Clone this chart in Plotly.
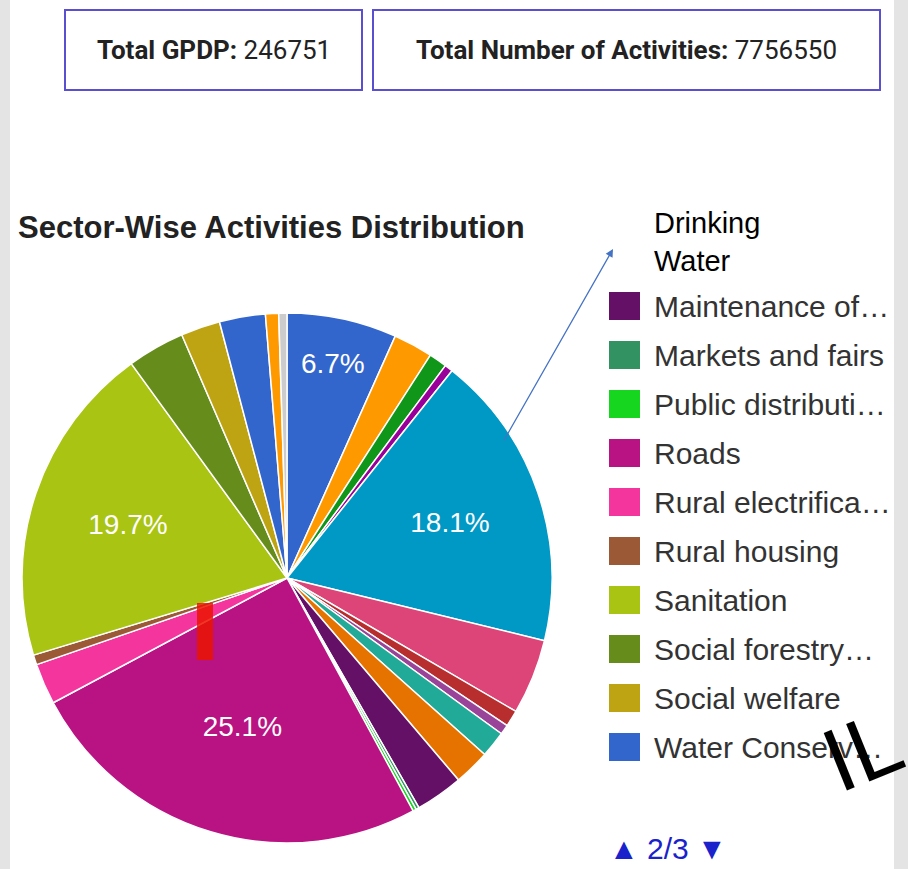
import plotly.graph_objects as go

W, H = 908, 869

# slices in data order (clockwise from 12 o'clock), share of activities in %
sectors = ["Agriculture", "Animal husbandry", "Cultural activities", "Drainage",
           "Drinking Water", "Education", "Family welfare", "Fisheries", "Health",
           "Libraries", "Maintenance of community assets", "Markets and fairs",
           "Public distribution system", "Roads", "Rural electrification",
           "Rural housing", "Sanitation", "Social forestry and farm forestry",
           "Social welfare", "Water Conservation", "Women and child development", "Other"]
share = [6.7, 2.4, 1.1, 0.5, 18.1, 4.6, 1.0, 0.6, 1.6, 2.2, 2.9, 0.2, 0.2,
         25.1, 2.5, 0.6, 19.7, 3.5, 2.4, 2.8, 0.8, 0.5]
colors = ["#3366cc", "#ff9900", "#109618", "#990099", "#0099c6", "#dd4477",
          "#b82e2e", "#994499", "#22aa99", "#e67300", "#651067", "#329262",
          "#16d620", "#b91383", "#f4359e", "#9c5935", "#a9c413", "#668d1c",
          "#bea413", "#3366cc", "#ff9900", "#cccccc"]
labelled = ["Agriculture", "Drinking Water", "Roads", "Sanitation"]

# legend page 2 of 3
legend_sectors = sectors[10:20]
legend_text = ["Maintenance of…", "Markets and fairs", "Public distributi…", "Roads",
               "Rural electrifica…", "Rural housing", "Sanitation", "Social forestry…",
               "Social welfare", "Water Conserv…"]

total_gpdp = 246751
total_activities = 7756550


def px(x):
    return x / W


def py(y):
    return 1 - y / H


fig = go.Figure(go.Pie(
    labels=sectors, values=share, sort=False, direction="clockwise", rotation=0,
    marker=dict(colors=colors, line=dict(color="white", width=1.5)),
    texttemplate=["%{percent:.1%}" if s in labelled else "" for s in sectors],
    textposition="inside", insidetextorientation="horizontal",
    textfont=dict(family="Liberation Sans", size=28, color="white"),
    domain=dict(x=[px(16), px(558)], y=[py(843), py(313)]),
    showlegend=False, hoverinfo="label+percent",
))

shapes = []
annotations = []


def note(x, y, text, size, color="#222", family="Liberation Sans", **kw):
    d = dict(xref="paper", yref="paper", x=px(x), y=py(y), text=text, showarrow=False,
             yanchor="middle", font=dict(family=family, size=size, color=color))
    d.update(kw)
    annotations.append(d)


# grey page edges
shapes.append(dict(type="rect", xref="paper", yref="paper", x0=0, x1=px(10), y0=0, y1=1,
                   fillcolor="#e4e4e4", line=dict(width=0), layer="below"))
shapes.append(dict(type="rect", xref="paper", yref="paper", x0=px(894), x1=1, y0=0, y1=1,
                   fillcolor="#e4e4e4", line=dict(width=0), layer="below"))

# summary boxes
for x0, x1, head, val in [(65, 362, "Total GPDP:", total_gpdp),
                          (373, 880, "Total Number of Activities:", total_activities)]:
    shapes.append(dict(type="rect", xref="paper", yref="paper", x0=px(x0), x1=px(x1),
                       y0=py(90), y1=py(10), line=dict(color="#5a4fd0", width=2),
                       fillcolor="white"))
    note((x0 + x1) / 2, 50, "<b>%s</b> %d" % (head, val), 26, family="Roboto",
         xanchor="center")

# chart title
note(16, 227, "<b>Sector-Wise Activities Distribution</b>", 31, xanchor="left")

# legend
for i, (s, t) in enumerate(zip(legend_sectors, legend_text)):
    yc = 306 + i * 49
    shapes.append(dict(type="rect", xref="paper", yref="paper", x0=px(609), x1=px(640),
                       y0=py(yc + 14), y1=py(yc - 14), fillcolor=colors[sectors.index(s)],
                       line=dict(width=0)))
    note(652, yc, t, 30, color="#333", xanchor="left")

note(607, 848, "▲ 2/3 ▼", 30, color="#1a22cc", xanchor="left")

# callout for drinking water
annotations.append(dict(xref="paper", yref="paper", x=px(613), y=py(249), ax=-110, ay=193,
                        text="", showarrow=True, arrowhead=2, arrowsize=1.2, arrowwidth=1.3,
                        arrowcolor="#4472c4"))
note(652, 242, "Drinking<br>Water", 29, color="black", xanchor="left", align="left")

# red marker and stamp text
shapes.append(dict(type="rect", xref="paper", yref="paper", x0=px(197), x1=px(213),
                   y0=py(660), y1=py(603), fillcolor="rgba(235,20,0,0.85)",
                   line=dict(width=0), layer="above"))
note(862, 751, "IL", 90, color="black", xanchor="center", textangle=-22)

fig.update_layout(width=W, height=H, autosize=False,
                  margin=dict(l=0, r=0, t=0, b=0),
                  paper_bgcolor="white", plot_bgcolor="white",
                  shapes=shapes, annotations=annotations)

fig.write_html("out.html", config={"displayModeBar": False},
               post_script="document.body.style.margin='0';")
